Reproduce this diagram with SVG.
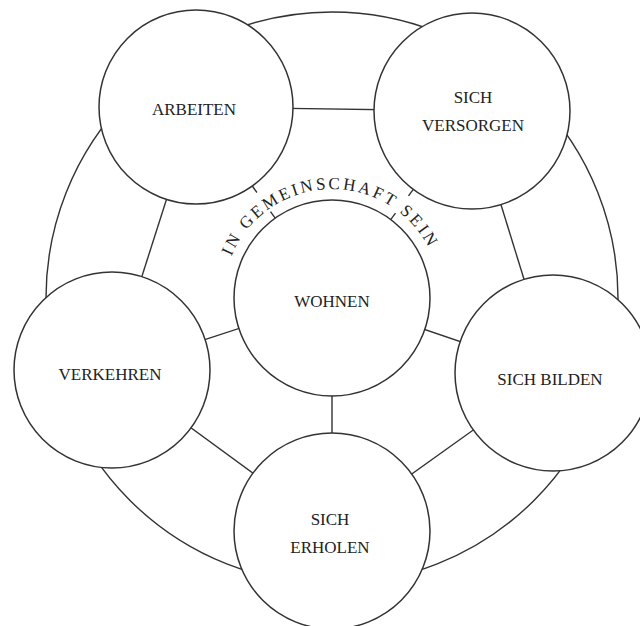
<svg xmlns="http://www.w3.org/2000/svg" width="640" height="626" viewBox="0 0 640 626">
<defs>
<style>
.ln{stroke:#333;stroke-width:1.4;fill:none}
.nd{stroke:#333;stroke-width:1.5;fill:#fff}
.lb{font-family:"Liberation Serif","Times New Roman",serif;font-size:17px;fill:#222;text-anchor:middle}
.arc{font-family:"Liberation Serif","Times New Roman",serif;font-size:17px;fill:#222;letter-spacing:2.7px}
</style>
<path id="arcPath" d="M 223 298 A 109 109 0 0 1 441 298"/>
</defs>
<rect width="640" height="626" fill="#fff"/>
<g id="connectors">
<circle class="ln" cx="332" cy="298" r="286"/>
<line class="ln" x1="196" y1="107" x2="472" y2="111"/>
<line class="ln" x1="472" y1="111" x2="553" y2="373"/>
<line class="ln" x1="553" y1="373" x2="332" y2="531"/>
<line class="ln" x1="332" y1="531" x2="112" y2="370"/>
<line class="ln" x1="112" y1="370" x2="196" y2="107"/>
<line class="ln" x1="332" y1="298" x2="112" y2="370"/>
<line class="ln" x1="332" y1="298" x2="553" y2="373"/>
<line class="ln" x1="332" y1="298" x2="332" y2="531"/>
<line class="ln" x1="275.2" y1="218.2" x2="270.5" y2="211.7"/>
<line class="ln" x1="252.3" y1="186" x2="256.9" y2="192.5"/>
<line class="ln" x1="390.7" y1="219.6" x2="395.5" y2="213.2"/>
<line class="ln" x1="413.3" y1="189.4" x2="408.5" y2="195.8"/>
</g>
<g id="arbeiten">
<circle class="nd" cx="196" cy="107" r="97"/>
<text class="lb" x="194" y="115">ARBEITEN</text>
</g>
<g id="sich-versorgen">
<circle class="nd" cx="472" cy="111" r="98"/>
<text class="lb" x="473" y="103">SICH</text>
<text class="lb" x="473" y="131">VERSORGEN</text>
</g>
<g id="verkehren">
<circle class="nd" cx="112" cy="370" r="98"/>
<text class="lb" x="110" y="380">VERKEHREN</text>
</g>
<g id="sich-bilden">
<circle class="nd" cx="553" cy="373" r="98"/>
<text class="lb" x="550" y="385">SICH BILDEN</text>
</g>
<g id="sich-erholen">
<circle class="nd" cx="332" cy="531" r="98"/>
<text class="lb" x="330" y="525">SICH</text>
<text class="lb" x="330" y="553">ERHOLEN</text>
</g>
<g id="wohnen">
<circle class="nd" cx="332" cy="298" r="98"/>
<text class="lb" x="332" y="307">WOHNEN</text>
</g>
<g id="in-gemeinschaft-sein">
<text class="arc"><textPath href="#arcPath" startOffset="48.9%" text-anchor="middle">IN GEMEINSCHAFT SEIN</textPath></text>
</g>
</svg>
